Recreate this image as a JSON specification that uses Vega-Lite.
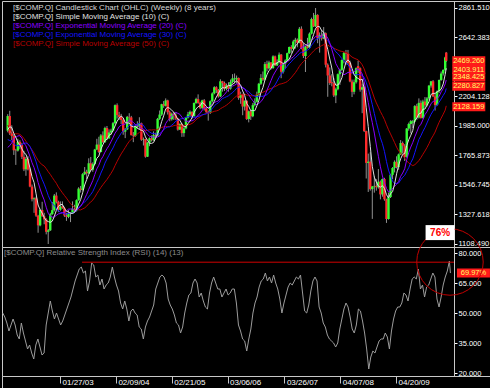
{
"$schema":"https://vega.github.io/schema/vega-lite/v6.json",
"background":"#000000",
"padding":0,
"spacing":0,
"bounds":"flush",
"config":{
 "font":"Liberation Sans",
 "view":{"stroke":"#c8c8c8","strokeWidth":1},
 "axis":{"labelFont":"Liberation Sans","labelFontSize":7.5,"labelColor":"#ffffff","tickColor":"#ffffff","domainColor":"#c8c8c8","grid":false,"title":null,"labelFlush":false,"labelOverlap":false,"labelBound":false},
 "legend":{"title":null,"orient":"top-left","offset":2,"padding":1,"rowPadding":1,"labelFont":"Liberation Sans","labelFontSize":8,"labelLimit":400,"symbolSize":0,"symbolStrokeWidth":0,"symbolOpacity":0,"labelOffset":0}
},
"datasets":{"px":[
{"d":"2001-01-19","c":2770},{"d":"2001-02-02","c":2660},{"d":"2001-02-16","c":2425},{"d":"2001-03-02","c":2118},{"d":"2001-03-16","c":1890},{"d":"2001-03-30","c":1840},{"d":"2001-04-13","c":1961},{"d":"2001-04-27","c":2075},{"d":"2001-05-11","c":2107},{"d":"2001-05-25","c":2250},{"d":"2001-06-08","c":2215},{"d":"2001-06-22","c":2034},{"d":"2001-07-06","c":2004},{"d":"2001-07-20","c":2029},{"d":"2001-08-03","c":2066},{"d":"2001-08-17","c":1867},{"d":"2001-08-31","c":1805},{"d":"2001-09-14","c":1695},{"d":"2001-09-28","c":1499},{"d":"2001-10-12","c":1703},{"d":"2001-10-26","c":1768},{"d":"2001-11-09","c":1828},{"d":"2001-11-23","c":1941},{"d":"2001-12-07","c":2021},{"d":"2001-12-21","c":1945},
{"d":"2002-01-04","o":1950,"h":2073,"l":1938,"c":2059,"r":50},
{"d":"2002-01-18","o":2059,"h":2098,"l":1918,"c":1930,"r":48},
{"d":"2002-02-01","o":1930,"h":1990,"l":1880,"c":1911,"r":45},
{"d":"2002-02-15","o":1911,"h":1925,"l":1770,"c":1805,"r":41},
{"d":"2002-03-01","o":1805,"h":1815,"l":1696,"c":1802,"r":44},
{"d":"2002-03-15","o":1802,"h":1890,"l":1795,"c":1868,"r":47},
{"d":"2002-03-29","o":1868,"h":1880,"l":1812,"c":1845,"r":44},
{"d":"2002-04-12","o":1845,"h":1860,"l":1740,"c":1756,"r":39},
{"d":"2002-04-26","o":1756,"h":1800,"l":1650,"c":1663,"r":37},
{"d":"2002-05-10","o":1663,"h":1755,"l":1615,"c":1741,"r":45},
{"d":"2002-05-24","o":1741,"h":1760,"l":1655,"c":1662,"r":40},
{"d":"2002-06-07","o":1662,"h":1675,"l":1530,"c":1535,"r":36},
{"d":"2002-06-21","o":1535,"h":1550,"l":1425,"c":1441,"r":32},
{"d":"2002-07-05","o":1441,"h":1455,"l":1340,"c":1448,"r":34},
{"d":"2002-07-19","o":1448,"h":1460,"l":1310,"c":1319,"r":30},
{"d":"2002-08-02","o":1319,"h":1325,"l":1192,"c":1247,"r":27},
{"d":"2002-08-16","o":1247,"h":1370,"l":1240,"c":1361,"r":34},
{"d":"2002-08-30","o":1361,"h":1422,"l":1310,"c":1315,"r":37},
{"d":"2002-09-13","o":1315,"h":1340,"l":1255,"c":1291,"r":33},
{"d":"2002-09-27","o":1291,"h":1300,"l":1180,"c":1199,"r":29},
{"d":"2002-10-11","o":1199,"h":1220,"l":1108.49,"c":1210,"r":30},
{"d":"2002-10-25","o":1210,"h":1340,"l":1205,"c":1331,"r":44},
{"d":"2002-11-08","o":1331,"h":1420,"l":1325,"c":1360,"r":50},
{"d":"2002-11-22","o":1360,"h":1480,"l":1350,"c":1468,"r":56},
{"d":"2002-12-06","o":1468,"h":1492,"l":1410,"c":1422,"r":51},
{"d":"2002-12-20","o":1422,"h":1430,"l":1345,"c":1363,"r":47},
{"d":"2003-01-03","o":1363,"h":1425,"l":1355,"c":1387,"r":50},
{"d":"2003-01-17","o":1387,"h":1425,"l":1370,"c":1376,"r":47},
{"d":"2003-01-31","o":1376,"h":1385,"l":1310,"c":1320,"r":44},
{"d":"2003-02-14","o":1320,"h":1340,"l":1280,"c":1310,"r":46},
{"d":"2003-02-28","o":1310,"h":1360,"l":1300,"c":1337,"r":49},
{"d":"2003-03-14","o":1337,"h":1345,"l":1271,"c":1340,"r":52},
{"d":"2003-03-28","o":1340,"h":1425,"l":1335,"c":1370,"r":55},
{"d":"2003-04-11","o":1370,"h":1400,"l":1345,"c":1358,"r":58},
{"d":"2003-04-25","o":1358,"h":1440,"l":1350,"c":1434,"r":62},
{"d":"2003-05-09","o":1434,"h":1530,"l":1430,"c":1520,"r":66},
{"d":"2003-05-23","o":1520,"h":1540,"l":1490,"c":1510,"r":69},
{"d":"2003-06-06","o":1510,"h":1635,"l":1505,"c":1627,"r":72},
{"d":"2003-06-20","o":1627,"h":1680,"l":1620,"c":1645,"r":73},
{"d":"2003-07-04","o":1645,"h":1660,"l":1590,"c":1634,"r":70},
{"d":"2003-07-18","o":1634,"h":1745,"l":1630,"c":1708,"r":71},
{"d":"2003-08-01","o":1708,"h":1755,"l":1650,"c":1660,"r":61},
{"d":"2003-08-15","o":1660,"h":1715,"l":1645,"c":1702,"r":66},
{"d":"2003-08-29","o":1702,"h":1815,"l":1700,"c":1810,"r":75},
{"d":"2003-09-12","o":1810,"h":1890,"l":1805,"c":1847,"r":74},
{"d":"2003-09-26","o":1847,"h":1905,"l":1785,"c":1792,"r":68},
{"d":"2003-10-10","o":1792,"h":1925,"l":1790,"c":1915,"r":69},
{"d":"2003-10-24","o":1915,"h":1945,"l":1860,"c":1865,"r":64},
{"d":"2003-11-07","o":1865,"h":1980,"l":1860,"c":1970,"r":67},
{"d":"2003-11-21","o":1970,"h":1985,"l":1880,"c":1893,"r":62},
{"d":"2003-12-05","o":1893,"h":1960,"l":1890,"c":1937,"r":64},
{"d":"2003-12-19","o":1937,"h":1965,"l":1920,"c":1951,"r":65},
{"d":"2004-01-02","o":1951,"h":2015,"l":1945,"c":2006,"r":68},
{"d":"2004-01-16","o":2006,"h":2145,"l":2000,"c":2140,"r":73},
{"d":"2004-01-30","o":2140,"h":2153,"l":2040,"c":2066,"r":68},
{"d":"2004-02-13","o":2066,"h":2090,"l":2030,"c":2053,"r":64},
{"d":"2004-02-27","o":2053,"h":2075,"l":2000,"c":2029,"r":61},
{"d":"2004-03-12","o":2029,"h":2040,"l":1920,"c":1943,"r":55},
{"d":"2004-03-26","o":1943,"h":1970,"l":1895,"c":1960,"r":52},
{"d":"2004-04-09","o":1960,"h":2060,"l":1955,"c":2053,"r":56},
{"d":"2004-04-23","o":2053,"h":2080,"l":2010,"c":2049,"r":52},
{"d":"2004-05-07","o":2049,"h":2060,"l":1915,"c":1917,"r":46},
{"d":"2004-05-21","o":1917,"h":1940,"l":1865,"c":1912,"r":51},
{"d":"2004-06-04","o":1912,"h":1990,"l":1905,"c":1978,"r":52},
{"d":"2004-06-18","o":1978,"h":2020,"l":1965,"c":1986,"r":50},
{"d":"2004-07-02","o":1986,"h":2050,"l":1960,"c":2006,"r":49},
{"d":"2004-07-16","o":2006,"h":2010,"l":1875,"c":1883,"r":43},
{"d":"2004-07-30","o":1883,"h":1900,"l":1840,"c":1887,"r":42},
{"d":"2004-08-13","o":1887,"h":1890,"l":1750,"c":1757,"r":37},
{"d":"2004-08-27","o":1757,"h":1865,"l":1755,"c":1862,"r":43},
{"d":"2004-09-10","o":1862,"h":1900,"l":1835,"c":1894,"r":46},
{"d":"2004-09-24","o":1894,"h":1915,"l":1870,"c":1879,"r":48},
{"d":"2004-10-08","o":1879,"h":1945,"l":1875,"c":1919,"r":51},
{"d":"2004-10-22","o":1919,"h":1935,"l":1890,"c":1915,"r":54},
{"d":"2004-11-05","o":1915,"h":2045,"l":1910,"c":2038,"r":62},
{"d":"2004-11-19","o":2038,"h":2100,"l":2030,"c":2070,"r":65},
{"d":"2004-12-03","o":2070,"h":2150,"l":2060,"c":2147,"r":68},
{"d":"2004-12-17","o":2147,"h":2170,"l":2120,"c":2135,"r":69},
{"d":"2004-12-31","o":2135,"h":2190,"l":2130,"c":2175,"r":68},
{"d":"2005-01-14","o":2175,"h":2180,"l":2070,"c":2087,"r":65},
{"d":"2005-01-28","o":2087,"h":2100,"l":2020,"c":2035,"r":57},
{"d":"2005-02-11","o":2035,"h":2085,"l":2025,"c":2076,"r":54},
{"d":"2005-02-25","o":2076,"h":2090,"l":2030,"c":2065,"r":52},
{"d":"2005-03-11","o":2065,"h":2085,"l":2030,"c":2041,"r":49},
{"d":"2005-03-25","o":2041,"h":2045,"l":1950,"c":1958,"r":45},
{"d":"2005-04-08","o":1958,"h":2005,"l":1955,"c":1999,"r":44},
{"d":"2005-04-22","o":1999,"h":2005,"l":1904,"c":1932,"r":40},
{"d":"2005-05-06","o":1932,"h":1975,"l":1905,"c":1967,"r":43},
{"d":"2005-05-20","o":1967,"h":2050,"l":1960,"c":2046,"r":50},
{"d":"2005-06-03","o":2046,"h":2090,"l":2040,"c":2071,"r":55},
{"d":"2005-06-17","o":2071,"h":2100,"l":2055,"c":2090,"r":59},
{"d":"2005-07-01","o":2090,"h":2095,"l":2040,"c":2057,"r":60},
{"d":"2005-07-15","o":2057,"h":2160,"l":2055,"c":2156,"r":65},
{"d":"2005-07-29","o":2156,"h":2195,"l":2150,"c":2185,"r":67},
{"d":"2005-08-12","o":2185,"h":2220,"l":2150,"c":2157,"r":65},
{"d":"2005-08-26","o":2157,"h":2165,"l":2110,"c":2120,"r":58},
{"d":"2005-09-09","o":2120,"h":2180,"l":2110,"c":2175,"r":60},
{"d":"2005-09-23","o":2175,"h":2185,"l":2100,"c":2116,"r":56},
{"d":"2005-10-07","o":2116,"h":2125,"l":2080,"c":2090,"r":53},
{"d":"2005-10-21","o":2090,"h":2100,"l":2025,"c":2082,"r":52},
{"d":"2005-11-04","o":2082,"h":2175,"l":2075,"c":2169,"r":60},
{"d":"2005-11-18","o":2169,"h":2235,"l":2160,"c":2227,"r":65},
{"d":"2005-12-02","o":2227,"h":2280,"l":2220,"c":2273,"r":68},
{"d":"2005-12-16","o":2273,"h":2280,"l":2230,"c":2252,"r":65},
{"d":"2005-12-30","o":2252,"h":2260,"l":2195,"c":2205,"r":62},
{"d":"2006-01-13","o":2205,"h":2332,"l":2200,"c":2317,"r":62},
{"d":"2006-01-27","o":2317,"h":2320,"l":2240,"c":2304,"r":58},
{"d":"2006-02-10","o":2304,"h":2315,"l":2245,"c":2261,"r":60},
{"d":"2006-02-24","o":2261,"h":2300,"l":2250,"c":2287,"r":62},
{"d":"2006-03-10","o":2287,"h":2310,"l":2240,"c":2262,"r":59},
{"d":"2006-03-24","o":2262,"h":2330,"l":2255,"c":2312,"r":60},
{"d":"2006-04-07","o":2312,"h":2370,"l":2300,"c":2339,"r":62},
{"d":"2006-04-21","o":2339,"h":2375,"l":2300,"c":2342,"r":62},
{"d":"2006-05-05","o":2330,"h":2360,"l":2300,"c":2342,"r":55},
{"d":"2006-05-19","o":2342,"h":2345,"l":2180,"c":2194,"r":44},
{"d":"2006-06-02","o":2194,"h":2240,"l":2150,"c":2219,"r":41},
{"d":"2006-06-16","o":2219,"h":2225,"l":2065,"c":2130,"r":37},
{"d":"2006-06-30","o":2130,"h":2175,"l":2100,"c":2172,"r":36},
{"d":"2006-07-14","o":2172,"h":2175,"l":2030,"c":2037,"r":31},
{"d":"2006-07-28","o":2037,"h":2100,"l":2012,"c":2094,"r":37},
{"d":"2006-08-11","o":2094,"h":2100,"l":2030,"c":2057,"r":42},
{"d":"2006-08-25","o":2057,"h":2155,"l":2050,"c":2140,"r":50},
{"d":"2006-09-08","o":2140,"h":2190,"l":2130,"c":2165,"r":55},
{"d":"2006-09-22","o":2165,"h":2240,"l":2160,"c":2218,"r":58},
{"d":"2006-10-06","o":2218,"h":2305,"l":2210,"c":2299,"r":63},
{"d":"2006-10-20","o":2299,"h":2370,"l":2290,"c":2342,"r":66},
{"d":"2006-11-03","o":2342,"h":2390,"l":2320,"c":2330,"r":67},
{"d":"2006-11-17","o":2330,"h":2460,"l":2325,"c":2445,"r":70},
{"d":"2006-12-01","o":2445,"h":2470,"l":2390,"c":2413,"r":66},
{"d":"2006-12-15","o":2413,"h":2470,"l":2405,"c":2457,"r":68},
{"d":"2006-12-29","o":2457,"h":2460,"l":2405,"c":2415,"r":65},
{"d":"2007-01-12","o":2415,"h":2510,"l":2410,"c":2502,"r":69},
{"d":"2007-01-26","o":2502,"h":2508,"l":2430,"c":2435,"r":65},
{"d":"2007-02-09","o":2435,"h":2480,"l":2430,"c":2459,"r":62},
{"d":"2007-02-23","o":2459,"h":2531,"l":2450,"c":2515,"r":57},
{"d":"2007-03-09","o":2515,"h":2520,"l":2340,"c":2387,"r":50},
{"d":"2007-03-23","o":2387,"h":2455,"l":2375,"c":2448,"r":55},
{"d":"2007-04-06","o":2448,"h":2480,"l":2410,"c":2471,"r":59},
{"d":"2007-04-20","o":2471,"h":2530,"l":2465,"c":2526,"r":63},
{"d":"2007-05-04","o":2526,"h":2575,"l":2520,"c":2572,"r":65},
{"d":"2007-05-18","o":2572,"h":2585,"l":2530,"c":2558,"r":64},
{"d":"2007-06-01","o":2558,"h":2625,"l":2555,"c":2613,"r":66},
{"d":"2007-06-15","o":2613,"h":2640,"l":2560,"c":2626,"r":68},
{"d":"2007-06-29","o":2626,"h":2635,"l":2570,"c":2603,"r":67},
{"d":"2007-07-13","o":2603,"h":2720,"l":2600,"c":2707,"r":69},
{"d":"2007-07-27","o":2707,"h":2725,"l":2555,"c":2562,"r":60},
{"d":"2007-08-10","o":2562,"h":2600,"l":2490,"c":2505,"r":51},
{"d":"2007-08-24","o":2505,"h":2580,"l":2386,"c":2576,"r":50},
{"d":"2007-09-07","o":2576,"h":2640,"l":2560,"c":2566,"r":54},
{"d":"2007-09-21","o":2566,"h":2680,"l":2560,"c":2671,"r":61},
{"d":"2007-10-05","o":2671,"h":2790,"l":2665,"c":2780,"r":66},
{"d":"2007-10-19","o":2780,"h":2825,"l":2720,"c":2725,"r":68},
{"d":"2007-11-02","o":2725,"h":2861.51,"l":2720,"c":2810,"r":66},
{"d":"2007-11-16","o":2810,"h":2815,"l":2600,"c":2637,"r":53},
{"d":"2007-11-30","o":2637,"h":2680,"l":2530,"c":2660,"r":50},
{"d":"2007-12-14","o":2660,"h":2700,"l":2620,"c":2635,"r":45},
{"d":"2007-12-28","o":2635,"h":2720,"l":2630,"c":2674,"r":43},
{"d":"2008-01-11","o":2674,"h":2680,"l":2420,"c":2440,"r":39},
{"d":"2008-01-25","o":2440,"h":2450,"l":2202,"c":2360,"r":37},
{"d":"2008-02-08","o":2360,"h":2420,"l":2290,"c":2304,"r":36},
{"d":"2008-02-22","o":2310,"h":2370,"l":2280,"c":2303,"r":35},
{"d":"2008-03-07","o":2303,"h":2340,"l":2200,"c":2212,"r":33},
{"d":"2008-03-21","o":2212,"h":2270,"l":2155,"c":2258,"r":35},
{"d":"2008-04-04","o":2258,"h":2375,"l":2250,"c":2370,"r":42},
{"d":"2008-04-18","o":2370,"h":2410,"l":2290,"c":2402,"r":47},
{"d":"2008-05-02","o":2402,"h":2480,"l":2395,"c":2476,"r":52},
{"d":"2008-05-16","o":2476,"h":2535,"l":2450,"c":2528,"r":55},
{"d":"2008-05-30","o":2528,"h":2550,"l":2440,"c":2522,"r":53},
{"d":"2008-06-13","o":2522,"h":2550,"l":2440,"c":2454,"r":48},
{"d":"2008-06-27","o":2454,"h":2470,"l":2310,"c":2316,"r":42},
{"d":"2008-07-11","o":2316,"h":2330,"l":2200,"c":2239,"r":40},
{"d":"2008-07-25","o":2239,"h":2330,"l":2220,"c":2310,"r":44},
{"d":"2008-08-08","o":2310,"h":2420,"l":2300,"c":2414,"r":52},
{"d":"2008-08-22","o":2430,"h":2470,"l":2380,"c":2414,"r":51},
{"d":"2008-09-05","o":2414,"h":2420,"l":2240,"c":2255,"r":46},
{"d":"2008-09-19","o":2255,"h":2300,"l":2080,"c":2273,"r":40},
{"d":"2008-10-03","o":2273,"h":2280,"l":1940,"c":1947,"r":32},
{"d":"2008-10-17","o":1947,"h":1950,"l":1595,"c":1711,"r":22},
{"d":"2008-10-31","o":1711,"h":1780,"l":1495,"c":1720,"r":28},
{"d":"2008-11-14","o":1720,"h":1790,"l":1505,"c":1516,"r":31},
{"d":"2008-11-28","o":1516,"h":1540,"l":1295,"c":1536,"r":30},
{"d":"2008-12-12","o":1536,"h":1610,"l":1490,"c":1540,"r":33},
{"d":"2008-12-26","o":1540,"h":1590,"l":1505,"c":1530,"r":36},
{"d":"2009-01-09","o":1530,"h":1665,"l":1520,"c":1571,"r":37},
{"d":"2009-01-23","o":1571,"h":1580,"l":1440,"c":1477,"r":37},
{"d":"2009-02-06","o":1477,"h":1595,"l":1460,"c":1591,"r":40},
{"d":"2009-02-20","o":1591,"h":1600,"l":1430,"c":1441,"r":38},
{"d":"2009-03-06","o":1441,"h":1445,"l":1265,"c":1294,"r":32},
{"d":"2009-03-20","o":1294,"h":1490,"l":1290,"c":1457,"r":41},
{"d":"2009-04-03","o":1457,"h":1630,"l":1450,"c":1622,"r":47},
{"d":"2009-04-17","o":1622,"h":1680,"l":1590,"c":1673,"r":51},
{"d":"2009-05-01","o":1673,"h":1730,"l":1640,"c":1719,"r":53},
{"d":"2009-05-15","o":1719,"h":1760,"l":1670,"c":1680,"r":53},
{"d":"2009-05-29","o":1680,"h":1780,"l":1660,"c":1774,"r":55},
{"d":"2009-06-12","o":1774,"h":1880,"l":1770,"c":1859,"r":60},
{"d":"2009-06-26","o":1859,"h":1870,"l":1780,"c":1838,"r":59},
{"d":"2009-07-10","o":1838,"h":1850,"l":1725,"c":1756,"r":56},
{"d":"2009-07-24","o":1756,"h":1970,"l":1750,"c":1966,"r":62},
{"d":"2009-08-07","o":1966,"h":2010,"l":1950,"c":2000,"r":67},
{"d":"2009-08-21","o":2000,"h":2030,"l":1930,"c":2021,"r":68},
{"d":"2009-09-04","o":2010,"h":2030,"l":1970,"c":2019,"r":67},
{"d":"2009-09-18","o":2019,"h":2140,"l":2015,"c":2133,"r":72},
{"d":"2009-10-02","o":2133,"h":2150,"l":2030,"c":2048,"r":62},
{"d":"2009-10-16","o":2048,"h":2190,"l":2040,"c":2157,"r":64},
{"d":"2009-10-30","o":2157,"h":2175,"l":2040,"c":2045,"r":58},
{"d":"2009-11-13","o":2045,"h":2180,"l":2040,"c":2167,"r":63},
{"d":"2009-11-27","o":2167,"h":2200,"l":2120,"c":2138,"r":64},
{"d":"2009-12-11","o":2138,"h":2200,"l":2130,"c":2190,"r":67},
{"d":"2009-12-25","o":2190,"h":2290,"l":2180,"c":2285,"r":70},
{"d":"2010-01-08","o":2285,"h":2320,"l":2270,"c":2317,"r":68},
{"d":"2010-01-22","o":2317,"h":2326,"l":2200,"c":2205,"r":57},
{"d":"2010-02-05","o":2205,"h":2230,"l":2100,"c":2141,"r":53},
{"d":"2010-02-19","o":2141,"h":2250,"l":2135,"c":2243,"r":58},
{"d":"2010-03-05","o":2243,"h":2330,"l":2230,"c":2327,"r":64},
{"d":"2010-03-19","o":2327,"h":2390,"l":2320,"c":2375,"r":68},
{"d":"2010-04-02","o":2375,"h":2405,"l":2360,"c":2402,"r":71},
{"d":"2010-04-16","o":2402,"h":2500,"l":2395,"c":2495,"r":76},
{"d":"2010-04-23","o":2530,"h":2535,"l":2460,"c":2469.26,"r":69.97}
]},
"vconcat":[
{
 "width":488,"height":246,
 "layer":[
  {
   "data":{"name":"px"},
   "transform":[
    {"window":[{"op":"mean","field":"c","as":"s10"}],"frame":[-4,0],"sort":[{"field":"d"}]},
    {"window":[{"op":"mean","field":"c","as":"e20"}],"frame":[-9,0],"sort":[{"field":"d"}]},
    {"window":[{"op":"mean","field":"c","as":"e30"}],"frame":[-14,0],"sort":[{"field":"d"}]},
    {"window":[{"op":"mean","field":"c","as":"s50"}],"frame":[-24,0],"sort":[{"field":"d"}]},
    {"filter":{"field":"o","valid":true}}
   ],
   "layer":[
    {"mark":{"type":"rule","color":"#909090","strokeWidth":1},
     "encoding":{
      "x":{"field":"d","type":"temporal","scale":{"type":"utc","domain":[{"year":2001,"month":12,"date":30,"utc":true},{"year":2011,"month":1,"date":16,"utc":true}]},"axis":null},
      "y":{"field":"l","type":"quantitative","scale":{"domain":[1086.2,2913.5],"nice":false,"zero":false},
           "axis":{"orient":"right","offset":-36,"values":[1108.49,1327.618,1546.745,1765.873,1985,2204.128,2642.383,2861.51],"tickCount":20,"format":".3f","tickSize":3,"labelPadding":1,"labelOverlap":false,"labelBound":false}},
      "y2":{"field":"h"}}},
    {"mark":{"type":"bar","width":2.4},
     "encoding":{
      "x":{"field":"d","type":"temporal"},
      "y":{"field":"o","type":"quantitative"},
      "y2":{"field":"c"},
      "color":{"condition":{"test":"datum.c >= datum.o","value":"#33ff33"},"value":"#ff2a2a"}}},
    {"mark":{"type":"line","strokeWidth":1},
     "encoding":{
      "x":{"field":"d","type":"temporal"},
      "y":{"field":"s50","type":"quantitative"},
      "color":{"datum":"[$COMP.Q] Simple Moving Average (50) (C)","type":"nominal",
        "scale":{"domain":["[$COMP.Q] Candlestick Chart (OHLC) (Weekly) (8 years)","[$COMP.Q] Simple Moving Average (10) (C)","[$COMP.Q] Exponential Moving Average (20) (C)","[$COMP.Q] Exponential Moving Average (30) (C)","[$COMP.Q] Simple Moving Average (50) (C)"],
                 "range":["#d8d8d8","#e0e0e0","#8a00ff","#1414ff","#b80000"]},
        "legend":{"encode":{"labels":{"update":{"fill":{"scale":"color","field":"value"}}}}}}}},
    {"mark":{"type":"line","strokeWidth":1},
     "encoding":{
      "x":{"field":"d","type":"temporal"},
      "y":{"field":"e30","type":"quantitative"},
      "color":{"datum":"[$COMP.Q] Exponential Moving Average (30) (C)","type":"nominal"}}},
    {"mark":{"type":"line","strokeWidth":1},
     "encoding":{
      "x":{"field":"d","type":"temporal"},
      "y":{"field":"e20","type":"quantitative"},
      "color":{"datum":"[$COMP.Q] Exponential Moving Average (20) (C)","type":"nominal"}}},
    {"mark":{"type":"line","strokeWidth":1},
     "encoding":{
      "x":{"field":"d","type":"temporal"},
      "y":{"field":"s10","type":"quantitative"},
      "color":{"datum":"[$COMP.Q] Simple Moving Average (10) (C)","type":"nominal"}}}
   ]
  },
  {
   "data":{"values":[{"v":2469.26},{"v":2403.911},{"v":2348.425},{"v":2280.827},{"v":2128.159}]},
   "layer":[
    {"mark":{"type":"tick","orient":"horizontal","thickness":9,"size":33,"color":"#ff1a1a","opacity":1},
     "encoding":{
      "x":{"datum":{"year":2010,"month":9,"date":26,"utc":true},"type":"temporal"},
      "y":{"field":"v","type":"quantitative"}}},
    {"mark":{"type":"text","color":"#ffff66","fontSize":7.5,"font":"Liberation Sans","align":"center","baseline":"middle"},
     "encoding":{
      "x":{"datum":{"year":2010,"month":9,"date":26,"utc":true},"type":"temporal"},
      "y":{"field":"v","type":"quantitative"},
      "text":{"field":"v","type":"quantitative","format":".3f"}}}
   ]
  }
 ]
},
{
 "width":488,"height":129,
 "layer":[
  {
   "data":{"name":"px"},
   "transform":[{"filter":{"field":"r","valid":true}}],
   "mark":{"type":"line","color":"#9c9c9c","strokeWidth":1},
   "encoding":{
    "x":{"field":"d","type":"temporal","scale":{"type":"utc","domain":[{"year":2001,"month":12,"date":30,"utc":true},{"year":2011,"month":1,"date":16,"utc":true}]},"axis":null},
    "y":{"field":"r","type":"quantitative","scale":{"domain":[18.5,83],"nice":false,"zero":false},
         "axis":{"orient":"right","offset":-36,"values":[20,35,50,65,80],"tickCount":20,"format":".3f","tickSize":3,"labelPadding":1,"labelOverlap":false,"labelBound":false}}}
  },
  {
   "data":{"values":[{"label":"[$COMP.Q] Relative Strength Index (RSI) (14) (13)"}]},
   "mark":{"type":"text","color":"#8c8c8c","fontSize":8,"font":"Liberation Sans","align":"left","baseline":"middle","dx":2},
   "encoding":{
    "x":{"datum":{"year":2001,"month":12,"date":30,"utc":true},"type":"temporal"},
    "y":{"datum":80,"type":"quantitative"},
    "text":{"field":"label"}}
  },
  {
   "data":{"values":[{"level":75.4}]},
   "mark":{"type":"rule","color":"#d00000","strokeWidth":1},
   "encoding":{
    "x":{"datum":{"year":2003,"month":6,"date":25,"utc":true},"type":"temporal"},
    "x2":{"datum":{"year":2010,"month":5,"date":17,"utc":true}},
    "y":{"field":"level","type":"quantitative"}}
  },
  {
   "data":{"values":[{"v":69.97,"t":"69.97%"}]},
   "layer":[
    {"mark":{"type":"tick","orient":"horizontal","thickness":9,"size":33,"color":"#ff1a1a","opacity":1},
     "encoding":{
      "x":{"datum":{"year":2010,"month":9,"date":26,"utc":true},"type":"temporal"},
      "y":{"field":"v","type":"quantitative"}}},
    {"mark":{"type":"text","color":"#ffff66","fontSize":7.5,"font":"Liberation Sans","align":"center","baseline":"middle"},
     "encoding":{
      "x":{"datum":{"year":2010,"month":9,"date":26,"utc":true},"type":"temporal"},
      "y":{"field":"v","type":"quantitative"},
      "text":{"field":"t"}}}
   ]
  },
  {
   "data":{"values":[{"peak":75.5}]},
   "mark":{"type":"point","shape":"circle","size":4418,"filled":false,"stroke":"#c00000","strokeWidth":1,"opacity":1},
   "encoding":{
    "x":{"datum":{"year":2010,"month":4,"date":20,"utc":true},"type":"temporal"},
    "y":{"field":"peak","type":"quantitative"}}
  },
  {
   "data":{"values":[{"t":"76%"}]},
   "layer":[
    {"mark":{"type":"tick","orient":"horizontal","thickness":15,"size":29,"color":"#ffffff","opacity":1},
     "encoding":{
      "x":{"datum":{"year":2010,"month":2,"date":12,"utc":true},"type":"temporal"},
      "y":{"datum":90.2,"type":"quantitative"}}},
    {"mark":{"type":"text","color":"#ff0000","fontSize":10,"fontWeight":"bold","font":"Liberation Sans","align":"center","baseline":"middle"},
     "encoding":{
      "x":{"datum":{"year":2010,"month":2,"date":12,"utc":true},"type":"temporal"},
      "y":{"datum":90.2,"type":"quantitative"},
      "text":{"field":"t"}}}
   ]
  }
 ]
},
{
 "width":488,"height":12,
 "data":{"values":[]},
 "mark":{"type":"point","opacity":0},
 "encoding":{
  "x":{"field":"d","type":"temporal",
   "scale":{"type":"utc","domain":[{"year":2001,"month":12,"date":30,"utc":true},{"year":2011,"month":1,"date":16,"utc":true}]},
   "axis":{"orient":"bottom","offset":-12,"domain":false,"values":[{"year":2003,"month":1,"date":27,"utc":true},{"year":2004,"month":2,"date":9,"utc":true},{"year":2005,"month":2,"date":21,"utc":true},{"year":2006,"month":3,"date":6,"utc":true},{"year":2007,"month":3,"date":26,"utc":true},{"year":2008,"month":4,"date":7,"utc":true},{"year":2009,"month":4,"date":20,"utc":true}],
     "tickCount":20,"format":"%m/%d/%y","tickSize":7,"tickColor":"#c8c8c8","labelAlign":"left","labelBaseline":"middle","labelPadding":-1,"labelOffset":2,"labelFontSize":8}}}
}
]
}
